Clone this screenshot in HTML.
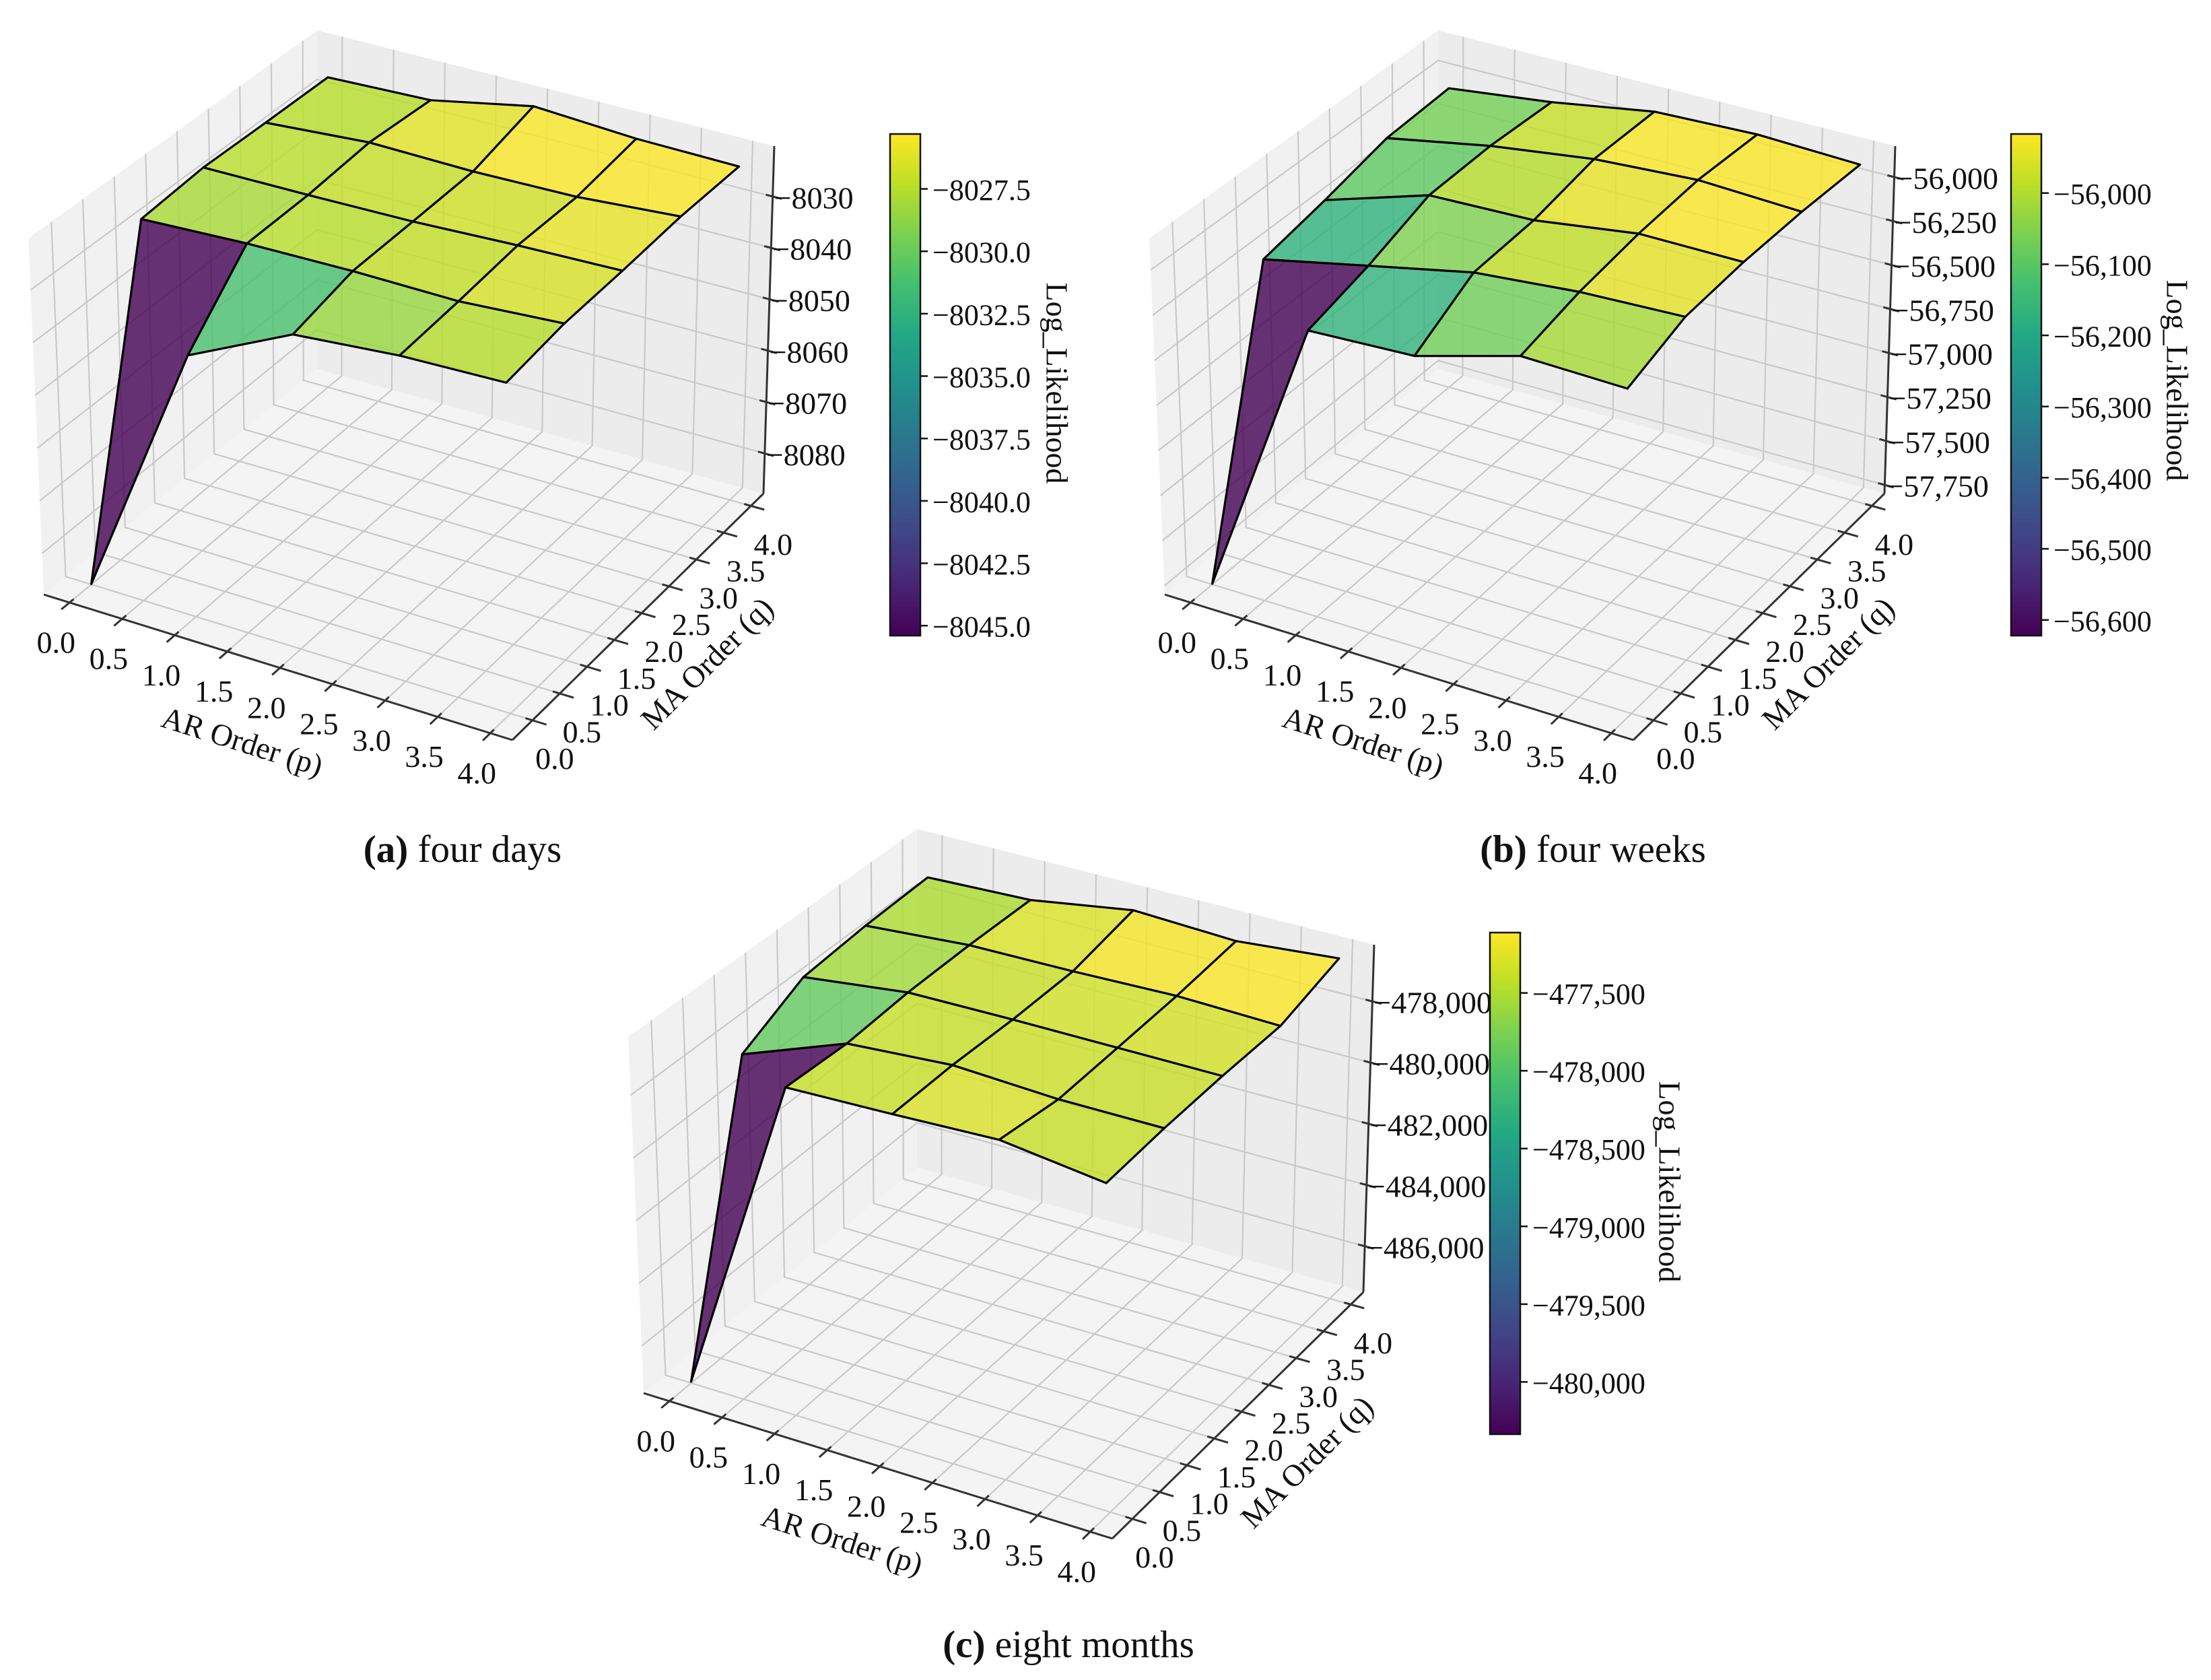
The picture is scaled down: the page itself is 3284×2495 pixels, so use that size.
<!DOCTYPE html>
<html><head><meta charset="utf-8"><title>ARMA log-likelihood surfaces</title>
<style>
html,body{margin:0;padding:0;background:#fff;}
svg{display:block;}
text{font-family:"Liberation Serif",serif;fill:#111;}
</style></head>
<body>
<svg id="fig" xmlns="http://www.w3.org/2000/svg" width="3284" height="2495" viewBox="0 0 3284 2495">
<defs>
<linearGradient id="viridisGrad" x1="0" y1="1" x2="0" y2="0">
<stop offset="0" stop-color="#440154"/><stop offset="0.1" stop-color="#482475"/><stop offset="0.2" stop-color="#414487"/><stop offset="0.3" stop-color="#355f8d"/><stop offset="0.4" stop-color="#2a788e"/><stop offset="0.5" stop-color="#21918c"/><stop offset="0.6" stop-color="#22a884"/><stop offset="0.7" stop-color="#44bf70"/><stop offset="0.8" stop-color="#7ad151"/><stop offset="0.9" stop-color="#bddf26"/><stop offset="1" stop-color="#fde725"/>
</linearGradient>
</defs>
</svg>
<script>
// ---- data ----
const arOrders=[0,1,2,3,4];
const maOrders=[0,1,2,3,4];
const axisTicks=[0,0.5,1,1.5,2,2.5,3,3.5,4];
// log-likelihood [p][q]
const llDays=[
 [-8087.7,-8027.0,-8025.9,-8026.1,-8026.2],
 [-8038.3,-8026.0,-8025.7,-8024.6,-8025.5],
 [-8028.5,-8025.6,-8025.3,-8024.9,-8021.5],
 [-8026.7,-8025.7,-8024.4,-8024.5,-8022.7],
 [-8026.0,-8024.3,-8023.8,-8023.0,-8023.0]];
const llWeeks=[
 [-57795,-56249,-56176,-56085,-56063],
 [-56215,-56118,-55986,-55972,-55990],
 [-56185,-55990,-55966,-55891,-55893],
 [-56016,-55933,-55881,-55854,-55873],
 [-56026,-55907,-55881,-55879,-55895]];
const llMonths=[
 [-487455,-478475,-477465,-477283,-477204],
 [-477068,-477170,-477034,-477022,-477079],
 [-476943,-476909,-476988,-476977,-476545],
 [-476784,-477056,-476977,-476886,-476693],
 [-477181,-477034,-476966,-476966,-476398]];
const zTicksDays=[-8030,-8040,-8050,-8060,-8070,-8080];
const zTicksWeeks=[-56000,-56250,-56500,-56750,-57000,-57250,-57500,-57750];
const zTicksMonths=[-478000,-480000,-482000,-484000,-486000];
const zLimDays=[-8087.8,-8020.2];
const zLimWeeks=[-57799,-55824];
const zLimMonths=[-487500,-476148];
const cbTicksDays=[-8027.5,-8030,-8032.5,-8035,-8037.5,-8040,-8042.5,-8045];
const cbTicksWeeks=[-56000,-56100,-56200,-56300,-56400,-56500,-56600];
const cbTicksMonths=[-477500,-478000,-478500,-479000,-479500,-480000];
const cbRangeDays=[-8045.4,-8025.3];
const cbRangeWeeks=[-56622,-55917];
const cbRangeMonths=[-480336,-477112];

// ---- geometry (base box corners of panel a) ----
const BF={c00:[65,883],c40:[761,1099],c04:[471,548],c44:[1134,733]};
const BT={c00:[42,354],c40:[753,559],c04:[471,45],c44:[1150,217]};
const FS=46, CFS=44, TFS=46;
const svg=document.getElementById('fig');
const NS='http://www.w3.org/2000/svg';
function mk(tag,attrs,parent){const e=document.createElementNS(NS,tag);for(const k in attrs)e.setAttribute(k,attrs[k]);(parent||svg).appendChild(e);return e;}
const VIR=['#440154','#482475','#414487','#355f8d','#2a788e','#21918c','#22a884','#44bf70','#7ad151','#bddf26','#fde725'];
function hx(s){return [parseInt(s.substr(1,2),16),parseInt(s.substr(3,2),16),parseInt(s.substr(5,2),16)];}
function viridis(t){t=Math.max(0,Math.min(1,t));const f=t*10,i=Math.min(9,Math.floor(f)),r=f-i;const a=hx(VIR[i]),b=hx(VIR[i+1]);return 'rgb('+a.map((x,k)=>Math.round(x+(b[k]-x)*r)).join(',')+')';}
function bil(A,u,v,d){return [A.c00[0]*(1-u)*(1-v)+A.c40[0]*u*(1-v)+A.c04[0]*(1-u)*v+A.c44[0]*u*v+d[0],
 A.c00[1]*(1-u)*(1-v)+A.c40[1]*u*(1-v)+A.c04[1]*(1-u)*v+A.c44[1]*u*v+d[1]];}
function P(d,u,v,w){const f=bil(BF,u,v,d),t=bil(BT,u,v,d);return [f[0]+w*(t[0]-f[0]),f[1]+w*(t[1]-f[1])];}
function U(p){return 0.055+0.2245*p;}
function V(q){return 0.08+0.2175*q;}
function pts(a){return a.map(x=>x[0].toFixed(1)+','+x[1].toFixed(1)).join(' ');}
function fmtComma(v){const s=Math.abs(v).toLocaleString('en-US');return '\u2212'+s;}

function panel(cfg){
 const d=cfg.off;
 const g=mk('g',{});
 
 
 const W=z=>(z-cfg.zlim[0])/(cfg.zlim[1]-cfg.zlim[0]);
 const floor=mk('polygon',{points:pts([P(d,0,0,0),P(d,1,0,0),P(d,1,1,0),P(d,0,1,0)]),fill:'#f4f4f4'},g);
 
 
 const lw=mk('polygon',{points:pts([P(d,0,0,0),P(d,0,1,0),P(d,0,1,1),P(d,0,0,1)]),fill:'#f1f1f1'},g);
 
 
 const bw=mk('polygon',{points:pts([P(d,0,1,0),P(d,1,1,0),P(d,1,1,1),P(d,0,1,1)]),fill:'#ececec'},g);
 
 
 const gs={stroke:'#c9c9c9','stroke-width':2.2,fill:'none'};
 axisTicks.forEach(t=>{
  const u=U(t);
  const l=mk('polyline',Object.assign({points:pts([P(d,u,0,0),P(d,u,1,0),P(d,u,1,1)])},gs),g);
  
  
  const v=V(t);
  const m=mk('polyline',Object.assign({points:pts([P(d,1,v,0),P(d,0,v,0),P(d,0,v,1)])},gs),g);
  
  
 });
 cfg.zticks.forEach(z=>{
  const w=W(z);
  const l=mk('polyline',Object.assign({points:pts([P(d,0,0,w),P(d,0,1,w),P(d,1,1,w)])},gs),g);
  
  
 });
 const data=cfg.data;
 const cells=[];
 for(let i=0;i<arOrders.length-1;i++)for(let j=0;j<maOrders.length-1;j++){
  const avg=(data[i][j]+data[i+1][j]+data[i+1][j+1]+data[i][j+1])/4;
  cells.push({i,j,avg,depth:(V(maOrders[j])+V(maOrders[j+1]))/2-(U(arOrders[i])+U(arOrders[i+1]))/2});
 }
 const mn=Math.min(...cells.map(c=>c.avg)),mx=Math.max(...cells.map(c=>c.avg));
 cells.sort((a,b)=>b.depth-a.depth);
 cells.forEach(c=>{
  const {i,j}=c;
  const q=[[i,j],[i+1,j],[i+1,j+1],[i,j+1]].map(([a,b])=>P(d,U(arOrders[a]),V(maOrders[b]),W(data[a][b])));
  const e=mk('polygon',{points:pts(q),fill:viridis((c.avg-mn)/(mx-mn)),'fill-opacity':0.8,stroke:'#000','stroke-width':3.2,'stroke-linejoin':'round'},g);
  
  
 });
 const as={stroke:'#333','stroke-width':3,fill:'none'};
 const xa=mk('line',Object.assign({x1:P(d,0,0,0)[0],y1:P(d,0,0,0)[1],x2:P(d,1,0,0)[0],y2:P(d,1,0,0)[1]},as),g);
 
 
 const ya=mk('line',Object.assign({x1:P(d,1,0,0)[0],y1:P(d,1,0,0)[1],x2:P(d,1,1,0)[0],y2:P(d,1,1,0)[1]},as),g);
 
 
 const za=mk('line',Object.assign({x1:P(d,1,1,0)[0],y1:P(d,1,1,0)[1],x2:P(d,1,1,1)[0],y2:P(d,1,1,1)[1]},as),g);
 
 
 axisTicks.forEach(t=>{
  const u=U(t),a=P(d,u,-0.03,0),b=P(d,u,0.015,0);
  const tk=mk('line',Object.assign({x1:a[0],y1:a[1],x2:b[0],y2:b[1]},as),g);
  
  
  const p0=P(d,u,0,0);
  const tx=mk('text',{x:p0[0]-20,y:p0[1]+59,'text-anchor':'middle','dominant-baseline':'central','font-size':FS},g);
  tx.textContent=t.toFixed(1);
  
  
  const v=V(t),c=P(d,1.03,v,0),e=P(d,0.985,v,0);
  const tk2=mk('line',Object.assign({x1:c[0],y1:c[1],x2:e[0],y2:e[1]},as),g);
  
  
  const p1=P(d,1,v,0);
  const ty=mk('text',{x:p1[0]+33,y:p1[1]+57,'text-anchor':'middle','dominant-baseline':'central','font-size':FS},g);
  ty.textContent=t.toFixed(1);
  
  
 });
 cfg.zticks.forEach(z=>{
  const w=W(z),a=P(d,0.985,1,w),b=P(d,1.02,1,w);
  const tk=mk('line',Object.assign({x1:a[0],y1:a[1],x2:b[0],y2:b[1]},as),g);
  
  
  const p=P(d,1,1,w);
  const tz=mk('text',{x:p[0]+2,y:p[1]+2,'text-anchor':'start','dominant-baseline':'central','font-size':FS},g);
  tz.textContent=cfg.zfmt(z);
  
  
 });
 const xl=mk('text',{x:360+d[0],y:1101+d[1],'text-anchor':'middle','dominant-baseline':'central','font-size':TFS,transform:'rotate(17.5 '+(360+d[0])+' '+(1101+d[1])+')'},g);
 xl.textContent='AR Order (p)';
 
 
 const yl=mk('text',{x:1050+d[0],y:985+d[1],'text-anchor':'middle','dominant-baseline':'central','font-size':TFS,transform:'rotate(-45 '+(1050+d[0])+' '+(985+d[1])+')'},g);
 yl.textContent='MA Order (q)';
 
 
 const cb=cfg.cb;
 const cr=mk('rect',{x:cb.x,y:cb.y,width:45,height:745,fill:'url(#viridisGrad)',stroke:'#111','stroke-width':2.5},g);
 
 
 const cy=v=>cb.y+745-(v-cfg.cbRange[0])/(cfg.cbRange[1]-cfg.cbRange[0])*745;
 cfg.cbTicks.forEach(v=>{
  const y=cy(v);
  const tl=mk('line',{x1:cb.x+45,y1:y,x2:cb.x+56,y2:y,stroke:'#111','stroke-width':2.5},g);
  
  
  const tt=mk('text',{x:cb.x+63,y:y+2,'dominant-baseline':'central','font-size':CFS},g);
  tt.textContent=cfg.cbfmt(v);
  
  
 });
 const cl=mk('text',{x:cb.lx,y:cb.ly,'text-anchor':'middle','dominant-baseline':'central','font-size':TFS,transform:'rotate(90 '+cb.lx+' '+cb.ly+')'},g);
 cl.textContent='Log_Likelihood';
 
 
 const cap=mk('text',{x:cfg.cap[0],y:cfg.cap[1],'text-anchor':'middle','font-size':57},g);
 const b=mk('tspan',{'font-weight':'bold'},cap);
 b.textContent=cfg.capLetter;
 const r=mk('tspan',{},cap);
 r.textContent=' '+cfg.capText;
 
 
}
panel({name:'panel-four-days',off:[0,0],data:llDays,zlim:zLimDays,zticks:zTicksDays,zfmt:v=>'\u2212'+Math.abs(v),
 cb:{x:1322,y:199,lx:1570,ly:569},cbRange:cbRangeDays,cbTicks:cbTicksDays,cbfmt:v=>'\u2212'+Math.abs(v).toFixed(1),
 cap:[687,1280],capLetter:'(a)',capText:'four days'});
panel({name:'panel-four-weeks',off:[1665,0],data:llWeeks,zlim:zLimWeeks,zticks:zTicksWeeks,zfmt:fmtComma,
 cb:{x:2987,y:199,lx:3234,ly:565},cbRange:cbRangeWeeks,cbTicks:cbTicksWeeks,cbfmt:fmtComma,
 cap:[2366,1280],capLetter:'(b)',capText:'four weeks'});
panel({name:'panel-eight-months',off:[891,1186],data:llMonths,zlim:zLimMonths,zticks:zTicksMonths,zfmt:fmtComma,
 cb:{x:2213,y:1385,lx:2480,ly:1755},cbRange:cbRangeMonths,cbTicks:cbTicksMonths,cbfmt:fmtComma,
 cap:[1587,2461],capLetter:'(c)',capText:'eight months'});
</script>
</body></html>
